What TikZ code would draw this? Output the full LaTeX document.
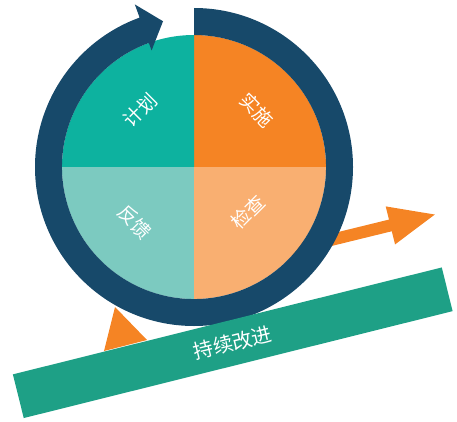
\documentclass[tikz,border=0pt]{standalone}
\usepackage{fontspec}
\newfontfamily\cjk{Noto Sans CJK SC}
\usetikzlibrary{calc,arrows.meta}
\definecolor{ringblue}{HTML}{17496A}
\definecolor{planteal}{HTML}{0DB29F}
\definecolor{doorange}{HTML}{F58424}
\definecolor{checkorange}{HTML}{F9AF71}
\definecolor{backteal}{HTML}{7CCAC0}
\definecolor{barteal}{HTML}{1EA086}
\begin{document}
\begin{tikzpicture}[x=1pt,y=1pt,
    quarter/.style={text=white,inner sep=0pt,font=\cjk\fontsize{19}{22}\selectfont}]
  \useasboundingbox (0,0) rectangle (457,421);
  \coordinate (c) at (194,254);
  \coordinate (shaft) at (290,171);
  \coordinate (tip) at (437,207);
  \draw[doorange,line width=12pt,-{Triangle[width=35pt,length=48pt]}] (shaft) -- (tip);
  \fill[doorange] (104,70) -- (115,114) -- (147,81) -- cycle;
  \foreach \a/\col in {0/doorange,90/planteal,180/backteal,270/checkorange}
    \fill[\col] (c) -- ++(\a:132) arc[start angle=\a,end angle=\a+90,radius=132] -- cycle;
  \fill[ringblue] ($(c)+(90:159)$) arc[start angle=90,end angle=-250,radius=159]
    -- ($(c)+(110:173)$) -- ($(c)+(102:149)$) -- ($(c)+(110:124)$) -- ($(c)+(110:132)$)
    arc[start angle=-250,end angle=90,radius=132] -- cycle;
  \node[quarter,rotate=45] (plan) at ($(c)+(-54,57)$) {计划};
  \node[quarter,rotate=-45] (do) at ($(c)+(63,57)$) {实施};
  \node[quarter,rotate=45] (check) at ($(c)+(54,-45)$) {检查};
  \node[quarter,rotate=-45] (back) at ($(c)+(-59,-55)$) {反馈};
  \node[fill=barteal,rotate=14,minimum width=442pt,minimum height=45pt,
    text=white,font=\cjk\fontsize{20}{24}\selectfont] (improve) at (232.75,78.25) {持续改进};
\end{tikzpicture}
\end{document}
